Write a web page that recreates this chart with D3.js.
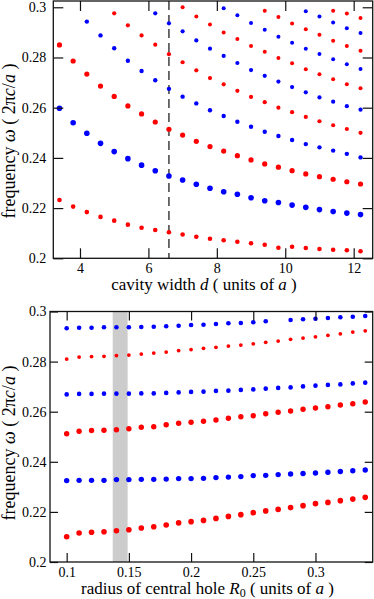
<!DOCTYPE html>
<html>
<head>
<meta charset="utf-8">
<script src="https://cdn.jsdelivr.net/npm/d3@7"></script>
<style>
  html, body { margin: 0; padding: 0; background: #fff; }
  svg { display: block; }
  svg text { font-family: "Liberation Serif", "Times New Roman", serif !important; fill: #000; }
</style>
</head>
<body>
<svg id="chart" width="374" height="599" font-family="Liberation Serif, serif"></svg>
<script>
// ---------------- DATA ----------------
// Top panel: cavity width d (units of a)
const topX = [3.4, 3.8, 4.2, 4.6, 5.0, 5.4, 5.8, 6.2, 6.6, 7.0, 7.4, 7.8, 8.2, 8.6, 9.0, 9.4, 9.8, 10.2, 10.6, 11.0, 11.4, 11.8, 12.2];
const topBand1Red  = [0.2232,0.2206,0.2184,0.2165,0.2150,0.2134,0.2122,0.2113,0.2104,0.2095,0.2086,0.2078,0.2072,0.2066,0.2060,0.2054,0.2042,0.2046,0.2041,0.2037,0.2034,0.2032,0.2028];
const topBand2Blue = [0.2598,0.2540,0.2498,0.2458,0.2425,0.2397,0.2371,0.2349,0.2328,0.2312,0.2295,0.2279,0.2265,0.2255,0.2241,0.2229,0.2222,0.2212,0.2203,0.2194,0.2186,0.2180,0.2174];
const topBand3Red  = [0.2850,0.2786,0.2734,0.2686,0.2645,0.2607,0.2575,0.2543,0.2514,0.2491,0.2466,0.2445,0.2427,0.2409,0.2392,0.2376,0.2363,0.2349,0.2336,0.2325,0.2315,0.2305,0.2296];
const topBand4Blue = [null,null,0.2943,0.2888,0.2837,0.2787,0.2746,0.2709,0.2675,0.2644,0.2617,0.2590,0.2567,0.2544,0.2524,0.2504,0.2487,0.2471,0.2455,0.2442,0.2429,0.2416,0.2402];
const topBand5Red  = [null,null,null,null,0.2976,0.2928,0.2888,0.2851,0.2813,0.2781,0.2749,0.2718,0.2693,0.2667,0.2643,0.2622,0.2600,0.2582,0.2563,0.2546,0.2530,0.2515,0.2500];
const topBand6Blue = [null,null,null,null,null,null,null,0.2976,0.2936,0.2904,0.2868,0.2835,0.2806,0.2778,0.2750,0.2727,0.2704,0.2682,0.2661,0.2641,0.2624,0.2606,0.2592];
const topBand7Red  = [null,null,null,null,null,null,null,null,null,0.3000,0.2963,0.2931,0.2900,0.2874,0.2846,0.2823,0.2798,0.2777,0.2753,0.2733,0.2713,0.2693,0.2677];
const topBand8Blue = [null,null,null,null,null,null,null,null,null,null,null,null,0.2996,0.2968,0.2937,0.2910,0.2883,0.2859,0.2835,0.2814,0.2793,0.2773,0.2754];
const topBand9Red  = [null,null,null,null,null,null,null,null,null,null,null,null,null,null,null,0.2986,0.2961,0.2935,0.2912,0.2891,0.2867,0.2846,0.2827];
const topBand10Blue= [null,null,null,null,null,null,null,null,null,null,null,null,null,null,null,null,null,null,0.2984,0.2963,0.2939,0.2916,0.2898];
const topBand11Red = [null,null,null,null,null,null,null,null,null,null,null,null,null,null,null,null,null,null,null,null,0.2986,0.2975,0.2957];
const topMarkedWidth = 6.6;
const topXTicks = [4, 6, 8, 10, 12];
const topXTickLabels = ["4", "6", "8", "10", "12"];

// Bottom panel: radius of central hole R0 (units of a)
const bottomX = [0.10,0.11,0.12,0.13,0.14,0.15,0.16,0.17,0.18,0.19,0.20,0.21,0.22,0.23,0.24,0.25,0.26,0.27,0.28,0.29,0.30,0.31,0.32,0.33,0.34];
const botBandABlue = [0.2933,0.2935,0.2935,0.2937,0.2937,0.2937,0.2938,0.2939,0.2941,0.2943,0.2946,0.2947,0.2950,0.2953,0.2954,0.2957,0.2961,null,0.2966,0.2969,0.2971,0.2974,0.2977,0.2979,0.2982];
const botBandBRed  = [0.2810,0.2818,0.2820,0.2821,0.2824,0.2826,0.2830,0.2834,0.2838,0.2844,0.2848,0.2853,0.2857,0.2862,0.2866,0.2871,0.2877,0.2882,0.2889,0.2894,0.2899,0.2905,0.2911,0.2918,0.2923];
const botBandCBlue = [0.2669,0.2671,0.2671,0.2672,0.2672,0.2672,0.2673,0.2673,0.2675,0.2677,0.2679,0.2680,0.2683,0.2684,0.2687,0.2689,0.2692,0.2695,0.2697,0.2701,0.2704,0.2707,0.2709,0.2713,0.2716];
const botBandDRed  = [0.2512,0.2522,0.2525,0.2526,0.2528,0.2532,0.2538,0.2540,0.2548,0.2554,0.2558,0.2562,0.2567,0.2574,0.2580,0.2584,0.2592,0.2598,0.2603,0.2610,0.2615,0.2620,0.2627,0.2632,0.2639];
const botBandEBlue = [0.2325,0.2326,0.2326,0.2326,0.2329,0.2329,0.2330,0.2330,0.2331,0.2333,0.2333,0.2334,0.2337,0.2339,0.2341,0.2345,0.2346,0.2349,0.2351,0.2353,0.2355,0.2358,0.2361,0.2364,0.2367];
const botBandFRed  = [0.2101,0.2116,0.2119,0.2121,0.2125,0.2129,0.2136,0.2141,0.2148,0.2156,0.2161,0.2166,0.2174,0.2182,0.2189,0.2197,0.2204,0.2210,0.2217,0.2225,0.2233,0.2238,0.2245,0.2251,0.2258];
const bottomShadedRange = [0.137, 0.149];
const bottomXTicks = [0.1, 0.15, 0.2, 0.25, 0.3];
const bottomXTickLabels = ["0.1", "0.15", "0.2", "0.25", "0.3"];

const yTicks = [0.2, 0.22, 0.24, 0.26, 0.28, 0.3];
const yTickLabels = ["0.2", "0.22", "0.24", "0.26", "0.28", "0.3"];

// ---------------- DRAWING ----------------
const RED = "#ff0000", BLUE = "#0000ff";
const SERIF = "Liberation Serif, Times New Roman, serif";
const svg = d3.select("#chart");

function panel(cfg) {
  const g = svg.append("g");
  const x = d3.scaleLinear().domain(cfg.xDomain).range([cfg.left, cfg.right]);
  const y = d3.scaleLinear().domain(cfg.yDomain).range([cfg.bottom, cfg.top]);

  if (cfg.shade) {
    g.append("rect")
      .attr("x", x(cfg.shade[0])).attr("y", cfg.top)
      .attr("width", x(cfg.shade[1]) - x(cfg.shade[0]))
      .attr("height", cfg.bottom - cfg.top)
      .attr("fill", "#cccccc");
  }
  if (cfg.vline != null) {
    g.append("line")
      .attr("x1", x(cfg.vline)).attr("x2", x(cfg.vline))
      .attr("y1", cfg.top).attr("y2", cfg.bottom)
      .attr("stroke", "#222").attr("stroke-width", 1.3)
      .attr("stroke-dasharray", "9,5");
  }

  cfg.series.forEach(s => {
    const pts = cfg.xs.map((xv, i) => ({ x: xv, y: s.values[i] })).filter(d => d.y != null);
    g.append("g").selectAll("circle").data(pts).join("circle")
      .attr("cx", d => x(d.x)).attr("cy", d => y(d.y))
      .attr("r", s.r).attr("fill", s.color);
  });

  const tl = cfg.tick;
  const axStyle = sel => {
    sel.attr("font-family", SERIF).attr("font-size", 14);
    sel.select(".domain").remove();
    sel.selectAll(".tick line").attr("stroke", "#111").attr("stroke-width", 1.2);
    sel.selectAll("text").attr("font-family", SERIF).attr("font-size", 14).attr("fill", "#000");
  };
  // bottom axis
  g.append("g").attr("transform", `translate(0,${cfg.bottom})`)
    .call(d3.axisBottom(x).tickValues(cfg.xTicks).tickFormat((d, i) => cfg.xTickLabels[i]).tickSize(-tl).tickSizeOuter(0).tickPadding(cfg.xPad))
    .call(axStyle);
  // top axis (mirror)
  g.append("g").attr("transform", `translate(0,${cfg.top})`)
    .call(d3.axisTop(x).tickValues(cfg.xTicks).tickFormat("").tickSize(-tl).tickSizeOuter(0))
    .call(axStyle);
  // left axis
  g.append("g").attr("transform", `translate(${cfg.left},0)`)
    .call(d3.axisLeft(y).tickValues(yTicks).tickFormat((d, i) => yTickLabels[i]).tickSize(-cfg.ytick).tickSizeOuter(0).tickPadding(cfg.yPad))
    .call(axStyle);
  // right axis (mirror)
  g.append("g").attr("transform", `translate(${cfg.right},0)`)
    .call(d3.axisRight(y).tickValues(yTicks).tickFormat("").tickSize(-cfg.ytick).tickSizeOuter(0))
    .call(axStyle);

  g.append("rect")
    .attr("x", cfg.left).attr("y", cfg.top)
    .attr("width", cfg.right - cfg.left).attr("height", cfg.bottom - cfg.top)
    .attr("fill", "none").attr("stroke", "#111").attr("stroke-width", 1.3);

  // y label
  const yl = g.append("text")
    .attr("transform", `translate(${cfg.yLabelX},${cfg.yLabelY}) rotate(-90)`)
    .attr("text-anchor", "middle").attr("font-family", SERIF).attr("font-size", 18);
  yl.append("tspan").text("frequency ");
  yl.append("tspan").attr("font-style", "italic").text("ω");
  yl.append("tspan").text(" (  2π");
  yl.append("tspan").attr("font-style", "italic").text("c");
  yl.append("tspan").text("/");
  yl.append("tspan").attr("font-style", "italic").text("a");
  yl.append("tspan").text("  )");

  // x label
  const xl = g.append("text")
    .attr("x", cfg.xLabelX).attr("y", cfg.xLabelY)
    .attr("text-anchor", "middle").attr("font-family", SERIF).attr("font-size", 17);
  cfg.xLabelParts.forEach(p => {
    const t = xl.append("tspan").text(p.t);
    if (p.i) t.attr("font-style", "italic");
    if (p.sub) t.attr("baseline-shift", "-25%").attr("font-size", 12);
  });
  return g;
}

panel({
  left: 53.3, right: 372.7, top: 1, bottom: 258.3,
  xDomain: [3.22, 12.556], yDomain: [0.2, 0.3025],
  xs: topX, xTicks: topXTicks, xTickLabels: topXTickLabels,
  tick: 10, ytick: 10, xPad: 5, yPad: 7,
  vline: topMarkedWidth,
  series: [
    { values: topBand1Red, color: RED, r: 2.3 },
    { values: topBand2Blue, color: BLUE, r: 2.8 },
    { values: topBand3Red, color: RED, r: 2.6 },
    { values: topBand4Blue, color: BLUE, r: 2.2 },
    { values: topBand5Red, color: RED, r: 2.1 },
    { values: topBand6Blue, color: BLUE, r: 2.1 },
    { values: topBand7Red, color: RED, r: 2.0 },
    { values: topBand8Blue, color: BLUE, r: 2.0 },
    { values: topBand9Red, color: RED, r: 2.0 },
    { values: topBand10Blue, color: BLUE, r: 2.0 },
    { values: topBand11Red, color: RED, r: 2.0 }
  ],
  yLabelX: 15, yLabelY: 141,
  xLabelX: 204, xLabelY: 290,
  xLabelParts: [{ t: "cavity width " }, { t: "d", i: true }, { t: " ( units of " }, { t: "a", i: true }, { t: " )" }]
});

panel({
  left: 50, right: 372.7, top: 311.5, bottom: 562,
  xDomain: [0.0866, 0.346], yDomain: [0.2, 0.3],
  xs: bottomX, xTicks: bottomXTicks, xTickLabels: bottomXTickLabels,
  tick: 9, ytick: 8, xPad: 5, yPad: 3.5,
  shade: bottomShadedRange,
  series: [
    { values: botBandABlue, color: BLUE, r: 2.3 },
    { values: botBandBRed, color: RED, r: 1.9 },
    { values: botBandCBlue, color: BLUE, r: 2.3 },
    { values: botBandDRed, color: RED, r: 2.7 },
    { values: botBandEBlue, color: BLUE, r: 2.7 },
    { values: botBandFRed, color: RED, r: 2.8 }
  ],
  yLabelX: 15, yLabelY: 443,
  xLabelX: 207.5, xLabelY: 594,
  xLabelParts: [{ t: "radius of central hole " }, { t: "R", i: true }, { t: "0", sub: true }, { t: " ( units of " }, { t: "a", i: true }, { t: " )" }]
});
</script>
</body>
</html>
